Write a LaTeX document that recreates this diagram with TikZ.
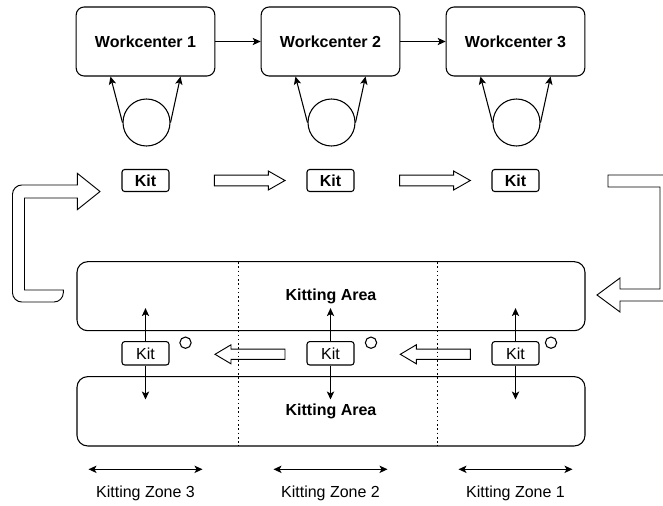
\documentclass[tikz,border=0pt]{standalone}
\usepackage{fontspec}
\setmainfont{Liberation Sans}
\usetikzlibrary{arrows.meta}
\tikzset{
  wcbox/.style={draw, rounded corners=6pt, minimum width=104pt, minimum height=51.75pt, font=\bfseries},
  kitbox/.style={draw, rounded corners=2pt, minimum width=35.25pt, minimum height=16.5pt, inner sep=0pt},
  areabox/.style={draw, rounded corners=8pt, minimum width=381pt, minimum height=51.75pt, font=\bfseries},
  blockarr/.style={draw, line width=0.7pt},
  zoneline/.style={line width=0.7pt, dash pattern=on 1.2pt off 2pt}
}
\begin{document}
\fontsize{12}{14}\selectfont
\begin{tikzpicture}[x=0.75pt,y=-0.75pt,line width=0.8pt,>={Stealth[length=6pt,width=5.5pt,inset=1.5pt]}]
\useasboundingbox (0,0) rectangle (663,506);
\clip (0,0) rectangle (663,506);
% columns: workcenter, kit, zone
\foreach \i/\x/\o/\z in {1/145.5/40/3,2/330.5/40.5/2,3/515.5/35.5/1}{
  \node[wcbox] (wc\i) at (\x,41.5) {Workcenter \i};
  \node[circle,draw,minimum size=35.25pt,inner sep=0pt] (c\i) at (\x+1,122.5) {};
  \draw[->] (c\i.west) -- (wc\i.225);
  \draw[->] (c\i.east) -- (wc\i.315);
  \node[kitbox,font=\bfseries] (k\i) at (\x,180.5) {Kit};
  \node[kitbox,minimum height=17.5pt] (lk\i) at (\x,353.3) {Kit};
  \node[circle,draw,minimum size=8.5pt,inner sep=0pt] (o\i) at (\x+\o,342.7) {};
  \node (z\i) at (\x,493) {Kitting Zone \z};
  \draw[<->] (\x-57,469.3) -- (\x+57,469.3);
}
\draw[->] (wc1) -- (wc2);
\draw[->] (wc2) -- (wc3);
% kitting areas
\node[areabox] (ka1) at (331,296.2) {Kitting Area};
\node[areabox,minimum height=52pt] (ka2) at (331,411.3) {Kitting Area};
\foreach \i in {1,2,3}{
  \draw[->] (lk\i.north) -- ++(0,-33);
  \draw[->] (lk\i.south) -- ++(0,34);
}
% block arrows
\foreach \t in {214.3,399.6}{
  \draw[blockarr] (\t,175.2) -- (\t+54,175.2) -- (\t+54,171) -- (\t+70.7,180.5) -- (\t+54,190) -- (\t+54,185.8) -- (\t,185.8) -- cycle;
  \draw[blockarr] (\t+0.7,354.3) -- (\t+16.7,344.8) -- (\t+16.7,349.2) -- (\t+70.7,349.2) -- (\t+70.7,359.4) -- (\t+16.7,359.4) -- (\t+16.7,363.8) -- cycle;
}
\draw[blockarr] (77.3,185) [rounded corners=7pt] -- (12.5,185) -- (12.5,302) -- (63.3,302) [sharp corners] -- (63.3,290) -- (24.5,290) -- (24.5,198) -- (77.3,198) -- (77.3,209.7) -- (100,191.5) -- (77.3,173.3) -- cycle;
\draw[blockarr] (608,175) -- (672,175) -- (672,301) -- (620,301) -- (620,312) -- (597,295) -- (620,278) -- (620,289) -- (660,289) -- (660,187) -- (608,187) -- cycle;
% zone borders
\foreach \d in {238.5,437.6}
  \draw[zoneline] (\d,262) -- (\d,446);
\end{tikzpicture}
\end{document}
